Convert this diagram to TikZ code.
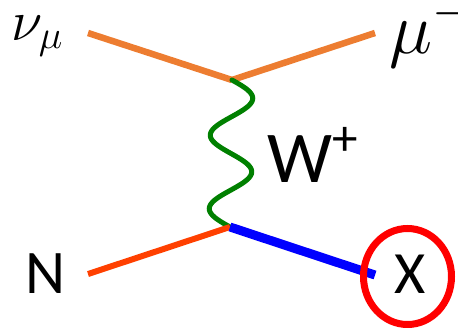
\RequirePackage{fix-cm}
\documentclass[tikz,border=0pt]{standalone}
\usepackage{fontspec}
\setsansfont{Carlito}
\usepackage{xcolor}
\usetikzlibrary{calc,positioning}
\definecolor{lepc}{HTML}{ED7D31}
\definecolor{nucc}{HTML}{FF4000}
\definecolor{bosc}{HTML}{008000}
\definecolor{hadc}{HTML}{0000FF}
\definecolor{ringc}{HTML}{FF0000}
\tikzset{
  lep/.style={lepc,line width=6.5pt},
  txt/.style={inner sep=0pt,anchor=base west,text=black},
  sanslbl/.style={txt,font=\sffamily\fontsize{62}{62}\selectfont}
}

\begin{document}
\begin{tikzpicture}[x=1pt,y=-1pt]
\useasboundingbox (0,0) rectangle (458,327);
% vertices and free ends
\coordinate (vtop) at (232,80);
\coordinate (vbot) at (230,227);
\coordinate (nuend) at (88,33);
\coordinate (muend) at (375,33);
\coordinate (nend) at (88,274);
\coordinate (xend) at (375,275);
% labels
\node[txt,font=\fontsize{57}{57}\selectfont] (nu) at (11,40) {$\nu_\mu$};
\node[txt,font=\fontsize{73}{73}\selectfont] (mu) at (389,53) {$\mu^-$};
\node[sanslbl,font=\sffamily\fontsize{73}{73}\selectfont] (w) at (267,182) {W\textsuperscript{+}};
\node[sanslbl] (n) at (25,293) {N};
\node[sanslbl,font=\sffamily\fontsize{60}{60}\selectfont,anchor=base] (x) at (410,293) {X};
% lines
\draw[lep] (nuend) -- (vtop);
\draw[lep] (vtop) -- (muend);
\draw[bosc,line width=5pt,line cap=round] plot[domain=0:1,samples=90,smooth]
  ({232-2*\x+21*sin(720*\x)},{80+147*\x});
\draw[nucc,line width=6pt] (nend) -- (vbot);
\draw[hadc,line width=9pt] (vbot) -- (xend);
\draw[ringc,line width=7pt] (407.5,276.5) ellipse (44 and 48);
\end{tikzpicture}
\end{document}
